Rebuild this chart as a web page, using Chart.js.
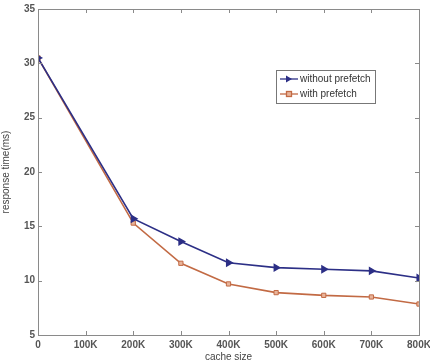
<!DOCTYPE html>
<html>
<head>
<meta charset="utf-8">
<script src="https://cdn.jsdelivr.net/npm/chart.js@4/dist/chart.umd.min.js"></script>
<style>
  html, body { margin: 0; padding: 0; background: #fff; }
  #wrap { width: 430px; height: 363px; }
</style>
</head>
<body>
<div id="wrap"><canvas id="chart"></canvas></div>
<script>
// cache size (K) and response time (ms)
var cacheSizes = [0, 200000, 300000, 400000, 500000, 600000, 700000, 800000];
var withoutPrefetch = [30.5, 15.7, 13.6, 11.65, 11.2, 11.05, 10.9, 10.25];
var withPrefetch = [30.5, 15.3, 11.6, 9.7, 8.9, 8.65, 8.5, 7.85];
var xTicks = [0, 100000, 200000, 300000, 400000, 500000, 600000, 700000, 800000];
var yTicks = [5, 10, 15, 20, 25, 30, 35];

var blue = '#2c2f86';
var orange = '#c26a44';

function pts(vals) {
    return vals.map(function (v, i) { return { x: cacheSizes[i], y: v }; });
}

// MATLAB style box, inward ticks and legend inside plot
var boxPlugin = {
    id: 'box',
    afterDraw: function (chart) {
        var c = chart.ctx, a = chart.chartArea;
        var xs = chart.scales.x, ys = chart.scales.y;
        c.save();
        c.strokeStyle = '#8a8a8a';
        c.lineWidth = 1;
        c.strokeRect(a.left + 0.5, a.top + 0.5, a.right - a.left, a.bottom - a.top);
        c.beginPath();
        xTicks.forEach(function (t) {
            var px = Math.round(xs.getPixelForValue(t)) + 0.5;
            c.moveTo(px, a.bottom); c.lineTo(px, a.bottom - 4);
            c.moveTo(px, a.top); c.lineTo(px, a.top + 4);
        });
        yTicks.forEach(function (t) {
            var py = Math.round(ys.getPixelForValue(t)) + 0.5;
            c.moveTo(a.left, py); c.lineTo(a.left + 4, py);
            c.moveTo(a.right, py); c.lineTo(a.right - 4, py);
        });
        c.stroke();

        // legend
        var lx = 276, ly = 70, lw = 99, lh = 33;
        c.fillStyle = '#fff';
        c.fillRect(lx, ly, lw, lh);
        c.strokeStyle = '#777';
        c.strokeRect(lx + 0.5, ly + 0.5, lw, lh);
        c.font = '10px "Liberation Sans", Arial, sans-serif';
        c.textBaseline = 'middle';
        chart.data.datasets.forEach(function (ds, i) {
            var yy = ly + 9 + i * 15;
            c.strokeStyle = ds.borderColor;
            c.lineWidth = 1.3;
            c.beginPath(); c.moveTo(lx + 4, yy); c.lineTo(lx + 22, yy); c.stroke();
            c.fillStyle = ds.borderColor;
            if (i === 0) {
                c.beginPath();
                c.moveTo(lx + 16, yy); c.lineTo(lx + 10, yy - 3.5); c.lineTo(lx + 10, yy + 3.5);
                c.closePath(); c.fill();
            } else {
                c.fillStyle = '#e8b49a';
                c.fillRect(lx + 10.5, yy - 2.5, 5, 5);
                c.strokeRect(lx + 10.5, yy - 2.5, 5, 5);
            }
            c.fillStyle = '#333';
            c.fillText(ds.label, lx + 24, yy);
        });
        c.restore();
    }
};

var tickFont = { family: '"Liberation Sans", Arial, sans-serif', size: 10, weight: 'bold' };

new Chart(document.getElementById('chart'), {
    type: 'line',
    data: {
        datasets: [{
            label: 'without prefetch',
            data: pts(withoutPrefetch),
            borderColor: blue,
            backgroundColor: blue,
            borderWidth: 1.6,
            pointStyle: 'triangle',
            rotation: 90,
            pointRadius: 3.5,
            tension: 0
        }, {
            label: 'with prefetch',
            data: pts(withPrefetch),
            borderColor: orange,
            backgroundColor: '#e8b49a',
            borderWidth: 1.6,
            pointStyle: 'rect',
            pointRadius: 3,
            pointBorderWidth: 1,
            tension: 0
        }]
    },
    options: {
        responsive: true,
        maintainAspectRatio: false,
        animation: false,
        layout: { padding: { top: 7, right: 11, left: 0, bottom: 0 } },
        plugins: { legend: { display: false }, tooltip: { enabled: false } },
        scales: {
            x: {
                type: 'linear',
                min: 0, max: 800000,
                afterBuildTicks: function (s) { s.ticks = xTicks.map(function (v) { return { value: v }; }); },
                afterFit: function (s) { s.height = 28; s.paddingRight = 0; s.paddingLeft = 0; },
                grid: { display: false, drawTicks: false },
                border: { display: false },
                ticks: {
                    padding: 4,
                    color: '#555',
                    font: tickFont,
                    callback: function (v) { return v === 0 ? '0' : (v / 1000) + 'K'; }
                },
                title: {
                    display: true, text: 'cache size', color: '#444', padding: 0,
                    font: { family: '"Liberation Sans", Arial, sans-serif', size: 10 }
                }
            },
            y: {
                min: 5, max: 35,
                afterBuildTicks: function (s) { s.ticks = yTicks.map(function (v) { return { value: v }; }); },
                afterFit: function (s) { s.width = 38; },
                grid: { display: false, drawTicks: false },
                border: { display: false },
                ticks: {
                    padding: 3,
                    color: '#555',
                    font: tickFont
                },
                title: {
                    display: true, text: 'response time(ms)', color: '#444', padding: 0,
                    font: { family: '"Liberation Sans", Arial, sans-serif', size: 10 }
                }
            }
        }
    },
    plugins: [boxPlugin]
});
</script>
</body>
</html>
